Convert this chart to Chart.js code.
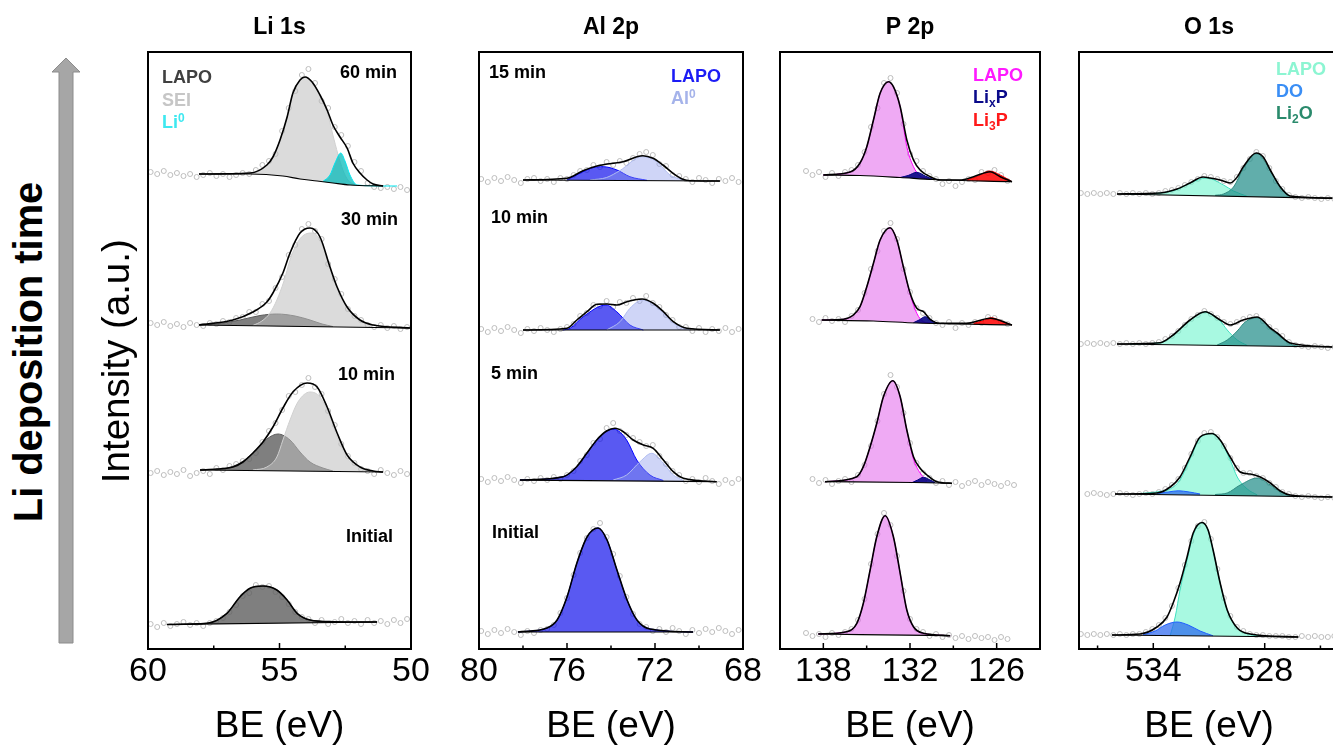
<!DOCTYPE html>
<html>
<head>
<meta charset="utf-8">
<title>XPS Li deposition</title>
<script src="https://cdn.jsdelivr.net/npm/chart.js@4.4.1/dist/chart.umd.min.js"></script>
<style>
  html, body { margin: 0; padding: 0; background: #fff; }
  body { width: 1333px; height: 749px; overflow: hidden; position: relative; font-family: 'Liberation Sans', Arial, sans-serif; }
  canvas { position: absolute; top: 0; }
  #arrow { position: absolute; left: 0; top: 0; }
  #timeLabel {
    position: absolute; left: 28px; top: 352px;
    transform: translate(-50%, -50%) rotate(-90deg) scaleX(0.97);
    font-weight: bold; font-size: 41px; line-height: 1; white-space: nowrap; color: #000;
  }
</style>
</head>
<body>
<svg id="arrow" width="100" height="749">
  <polygon points="59,643 59,72 52,72 66,58 80,72 73,72 73,643" fill="#a6a6a6" stroke="#8c8c8c" stroke-width="1"/>
</svg>
<div id="timeLabel">Li deposition time</div>
<canvas id="li1s" width="436" height="749" style="left:0px"></canvas>
<canvas id="al2p" width="314" height="749" style="left:454px"></canvas>
<canvas id="p2p" width="310" height="749" style="left:755px"></canvas>
<canvas id="o1s" width="310" height="749" style="left:1054px"></canvas>
<script>
Chart.defaults.font.family = "'Liberation Sans', Arial, sans-serif";
Chart.defaults.color = '#000';

// ---------- Li 1s ----------
const li1sTicks = [60, 55, 50];
const li1sMinor = [57.5, 52.5];
const li1sGrid = [59.9, 59.65, 59.4, 59.15, 58.9, 58.65, 58.4, 58.15, 57.9, 57.65, 57.4, 57.15, 56.9, 56.65, 56.4, 56.15, 55.9, 55.65, 55.4, 55.15,
  54.9, 54.65, 54.4, 54.15, 53.9, 53.65, 53.4, 53.15, 52.9, 52.65, 52.4, 52.15, 51.9, 51.65, 51.4, 51.15, 50.9, 50.65, 50.4, 50.15];
const li1sRaw60 = [477, 475, 478, 474, 476, 473, 475, 472, 474, 476, 473, 475, 472, 474, 476, 475, 479, 484, 488, 495,
  518, 541, 558, 574, 580, 566, 548, 541, 522, 514, 503, 487, 478, 466, 462, 461, 462, 460, 462, 459];
const li1sRaw30 = [326, 324, 327, 323, 325, 322, 326, 324, 323, 326, 325, 328, 327, 331, 332, 337, 337, 345, 348, 361,
  372, 394, 404, 420, 425, 418, 410, 385, 370, 355, 340, 333, 329, 324, 322, 324, 321, 323, 320, 322];
const li1sRaw10 = [176, 178, 174, 177, 175, 179, 173, 176, 178, 175, 181, 179, 183, 185, 188, 190, 196, 207, 218, 226,
  239, 253, 257, 264, 271, 262, 255, 238, 224, 205, 193, 186, 180, 178, 175, 179, 176, 174, 178, 175];
const li1sRaw0 = [25, 22, 26, 23, 25, 27, 24, 26, 23, 26, 28, 31, 37, 44, 53, 56, 64, 62, 63, 57,
  52, 45, 37, 32, 30, 26, 29, 25, 27, 30, 26, 28, 25, 29, 26, 28, 25, 29, 26, 30];

const li1sBase60 = [[58.06, 475], [56.12, 475], [54.87, 473], [54.22, 470], [53.57, 468], [52.97, 466], [52.32, 464], [51.06, 463]];
const li1sEnv60 = [[58.06, 475], [56.12, 476], [55.48, 484], [55.25, 492], [54.98, 509], [54.71, 532], [54.49, 556], [54.22, 569], [54.03, 572], [53.76, 567],
  [53.46, 554], [53.19, 539], [52.97, 524], [52.70, 512], [52.43, 501], [52.21, 486], [51.94, 476], [51.67, 469], [51.44, 465], [51.06, 463]];
const li1sSei60 = [[58.06, 475], [56.12, 476], [55.48, 484], [55.25, 492], [54.98, 509], [54.71, 532], [54.49, 556], [54.22, 569], [54.03, 572], [53.76, 567],
  [53.46, 554], [53.19, 537], [52.97, 514], [52.78, 495], [52.59, 479], [52.40, 469], [52.13, 464]];
const li1sLi60 = [[53.35, 467.5], [53.08, 474], [52.89, 486], [52.67, 496], [52.51, 488], [52.32, 474], [52.05, 464], [51.06, 463]];
const li1sLiTail60 = [[51.06, 463], [50.53, 463]];

const li1sBase30 = [[58.06, 324], [50.04, 321]];
const li1sEnv30 = [[58.06, 324], [56.77, 329], [56.01, 337], [55.48, 347], [55.25, 356], [54.87, 376], [54.60, 396], [54.22, 416], [53.84, 421], [53.46, 412],
  [53.08, 382], [52.81, 362], [52.43, 342], [51.94, 329], [51.44, 324], [50.04, 321]];
const li1sLapo30 = [[58.06, 324], [57.26, 325.5], [56.50, 329], [55.74, 333.5], [55.10, 335], [54.41, 333], [53.84, 329], [53.38, 325], [52.97, 322.5]];
const li1sSei30 = [[56.01, 323.5], [55.67, 328], [55.36, 336], [55.10, 349], [54.83, 368], [54.60, 389], [54.33, 406], [54.07, 414], [53.76, 416], [53.46, 409],
  [53.08, 381], [52.81, 361], [52.43, 341], [51.94, 328], [51.48, 323]];

const li1sBase10 = [[58.02, 179], [51.06, 177]];
const li1sEnv10 = [[58.02, 179], [57.38, 180], [56.77, 182], [56.39, 187], [56.01, 196], [55.63, 207], [55.25, 222], [54.87, 241], [54.49, 257], [53.95, 266],
  [53.57, 262], [53.19, 242], [52.81, 216], [52.43, 194], [51.94, 182], [51.44, 178], [51.06, 177]];
const li1sLapo10 = [[58.02, 179], [57.00, 181], [56.50, 186], [56.01, 196], [55.48, 210], [55.06, 215], [54.60, 209], [54.22, 197], [53.84, 187], [53.35, 181], [52.97, 178]];
const li1sSei10 = [[56.01, 179], [55.48, 182], [55.10, 192], [54.87, 209], [54.60, 229], [54.30, 247], [53.84, 257], [53.46, 252], [53.08, 232], [52.81, 212],
  [52.43, 191], [51.94, 181], [51.67, 178]];

const li1sBase0 = [[59.28, 24.5], [51.29, 27]];
const li1sEnv0 = [[59.28, 24.5], [57.76, 25.7], [57.00, 35.7], [56.50, 52.3], [56.12, 60.7], [55.63, 63], [55.10, 59], [54.71, 49], [54.33, 35.7], [53.84, 29],
  [52.97, 27.3], [51.29, 27]];

// ---------- Al 2p ----------
const al2pTicks = [80, 76, 72, 68];
const al2pMinor = [78, 74, 70];
const al2pGrid = [79.9, 79.6, 79.3, 79.0, 78.7, 78.4, 78.1, 77.8, 77.5, 77.2, 76.9, 76.6, 76.3, 76.0, 75.7, 75.4, 75.1, 74.8, 74.5, 74.2,
  73.9, 73.6, 73.3, 73.0, 72.7, 72.4, 72.1, 71.8, 71.5, 71.2, 70.9, 70.6, 70.3, 70.0, 69.7, 69.4, 69.1, 68.8, 68.5, 68.2];
const al2pRaw15 = [470, 467, 471, 468, 472, 469, 466, 470, 471, 468, 470, 467, 471, 470, 474, 478, 479, 484, 482, 487,
  484, 488, 486, 491, 495, 497, 494, 485, 483, 474, 473, 470, 467, 471, 469, 466, 470, 468, 471, 467];
const al2pRaw10 = [320, 317, 321, 318, 322, 319, 316, 320, 318, 321, 319, 317, 320, 322, 325, 333, 336, 344, 343, 348,
  342, 347, 346, 351, 348, 353, 346, 342, 334, 329, 322, 322, 318, 321, 317, 320, 318, 321, 317, 320];
const al2pRaw5 = [170, 167, 171, 168, 172, 169, 166, 170, 168, 171, 169, 172, 170, 174, 178, 188, 194, 206, 210, 221,
  226, 218, 214, 211, 207, 203, 204, 193, 185, 178, 174, 168, 170, 167, 171, 168, 165, 169, 166, 170];
const al2pRaw0 = [18, 15, 19, 16, 20, 17, 14, 18, 16, 19, 20, 24, 36, 51, 74, 96, 111, 120, 126, 112,
  95, 73, 52, 35, 25, 22, 18, 20, 17, 21, 18, 15, 19, 16, 20, 17, 21, 18, 15, 19];

const al2pBase15 = [[78.00, 469], [69.05, 468]];
const al2pEnv15 = [[78.00, 469], [76.00, 470.7], [75.27, 478.3], [74.64, 483], [74.18, 485], [73.45, 487.3], [72.82, 492.3], [72.55, 493.3], [72.09, 490.7],
  [71.64, 484], [71.18, 475.7], [70.73, 469.7], [70.41, 468.3], [69.05, 468]];
const al2pLapo15 = [[76.00, 469], [75.27, 477.3], [74.82, 481.3], [74.36, 482.3], [73.73, 479], [73.14, 472.3], [72.36, 468.7]];
const al2pAl15 = [[74.95, 469], [74.20, 471.5], [73.59, 478.5], [72.60, 492.3], [71.92, 487.3], [71.32, 474], [70.71, 469]];

const al2pBase10 = [[78.00, 319], [69.05, 319]];
const al2pEnv10 = [[78.00, 319], [76.00, 320.7], [75.55, 329], [75.09, 337.3], [74.64, 344.7], [74.18, 345], [73.73, 344], [73.27, 347.3], [72.59, 350],
  [72.08, 345.7], [71.62, 337.3], [71.17, 327.3], [70.55, 320.7], [69.05, 319]];
const al2pLapo10 = [[76.18, 319], [75.86, 320.7], [75.26, 332.3], [74.23, 344], [73.74, 337.3], [73.14, 324], [72.53, 319]];
const al2pAl10 = [[74.20, 319], [73.59, 327.3], [73.14, 340.7], [72.56, 349], [71.77, 339], [71.17, 325.7], [70.41, 319]];

const al2pBase5 = [[78.14, 169], [69.20, 167.3]];
const al2pEnv5 = [[78.14, 169], [76.17, 172.3], [75.56, 182.3], [75.10, 195.7], [74.65, 209], [74.20, 218], [73.82, 220.7], [73.44, 217.3], [72.99, 209],
  [72.53, 204], [72.08, 200.7], [71.62, 189], [71.17, 177.3], [70.71, 170.7], [69.20, 167.3]];
const al2pLapo5 = [[78.14, 169], [76.17, 172.3], [75.56, 182.3], [75.10, 195.7], [74.65, 209], [74.20, 218], [73.86, 219.7], [73.29, 209], [72.83, 189],
  [72.23, 174], [71.62, 168.5]];
const al2pAl5 = [[73.90, 169], [73.29, 174], [72.68, 187.3], [72.15, 195.7], [71.62, 185.7], [71.17, 174], [70.71, 168.5]];

const al2pBase0 = [[78.23, 17], [70.27, 17]];
const al2pEnv0 = [[78.23, 17], [76.91, 21], [76.45, 29], [76.00, 52], [75.55, 86], [75.09, 112], [74.59, 121], [74.18, 109], [73.73, 79], [73.27, 49],
  [72.82, 29], [72.23, 20], [70.27, 17]];

// ---------- P 2p ----------
const p2pTicks = [138, 132, 126];
const p2pMinor = [135, 129];
const p2pGrid = [139.2, 138.75, 138.3, 137.85, 137.4, 136.95, 136.5, 136.05, 135.6, 135.15, 134.7, 134.25, 133.8, 133.35, 132.9, 132.45, 132.0,
  131.55, 131.1, 130.65, 130.2, 129.75, 129.3, 128.85, 128.4, 127.95, 127.5, 127.05, 126.6, 126.15, 125.7, 125.25, 124.8];
const p2pRawA = [478, 474, 477, 472, 476, 473, 477, 479, 484, 497, 522, 541, 566, 571, 556, 525, 495, 488, 478, 473,
  470, 465, 468, 463, 467, 470, 469, 477, 476, 479, 474, 468, null];
const p2pRawB = [null, 330, 327, 331, 328, 330, 327, 333, 339, 356, 380, 398, 418, 426, 410, 380, 357, 341, 336, 331,
  326, 324, 327, 321, 326, 324, 327, 326, 332, 331, 327, 325, null];
const p2pRawC = [null, 170, 166, 169, 165, 168, 170, 167, 174, 184, 203, 228, 255, 274, 262, 236, 206, 186, 176, 171,
  166, 168, 164, 167, 163, 166, 168, 164, 167, 165, 163, 166, 164];
const p2pRawD = [16, 13, 15, 12, 16, 14, 17, 20, 29, 50, 85, 115, 136, 124, 93, 58, 30, 20, 17, 13,
  15, 12, 14, 11, 13, 10, 13, 11, 12, 9, 12, 10, null];

const p2pBaseA = [[138.00, 474], [135.46, 473.5], [132.68, 471.5], [130.40, 469.5], [124.94, 467.3]];
const p2pEnvA = [[138.00, 474], [136.15, 477], [135.46, 486], [134.99, 502.3], [134.53, 529], [134.07, 555.7], [133.49, 567.3], [133.15, 562.3], [132.68, 542.3],
  [132.22, 509], [131.76, 489], [131.30, 479], [130.60, 472.3], [129.91, 469], [128.53, 469], [127.60, 472.3], [126.45, 477.3], [125.75, 472.3], [124.94, 467.3]];
const p2pLapoA = [[138.00, 474], [136.15, 477], [135.46, 486], [134.99, 502.3], [134.53, 529], [134.07, 555.7], [133.49, 567.3], [133.15, 562.3], [132.68, 542.3],
  [132.22, 502.3], [131.76, 482.3], [131.30, 473], [130.81, 470.5]];
const p2pLixA = [[132.68, 471.5], [132.13, 473.5], [131.53, 476.7], [130.95, 473], [130.38, 469.5]];
const p2pLi3A = [[128.06, 469], [127.28, 473], [126.50, 478], [125.75, 474], [124.94, 467.3]];

const p2pBaseB = [[138.11, 329], [134.53, 328], [131.53, 326], [124.94, 324]];
const p2pEnvB = [[138.11, 329], [136.61, 329.7], [135.92, 334], [135.46, 342.3], [134.99, 362.3], [134.53, 385.7], [134.07, 409], [133.38, 421.3], [132.91, 409],
  [132.46, 382.3], [131.99, 355.7], [131.53, 340.7], [131.07, 337.3], [130.60, 329.7], [129.91, 325.7], [128.06, 325.7], [126.45, 330.7], [124.94, 324]];
const p2pLapoB = [[138.11, 329], [136.61, 329.7], [135.92, 334], [135.46, 342.3], [134.99, 362.3], [134.53, 385.7], [134.07, 409], [133.38, 421.3], [132.91, 409],
  [132.46, 382.3], [131.99, 354.7], [131.53, 335.7], [131.07, 327.3], [130.60, 326]];
const p2pLixB = [[131.76, 326.3], [131.37, 329], [130.95, 332.3], [130.54, 329], [130.14, 325.7]];
const p2pLi3B = [[127.60, 325.7], [127.00, 328], [126.38, 331.3], [125.68, 328], [124.94, 324]];

const p2pBaseC = [[137.88, 167.3], [131.76, 166.5], [129.10, 165.7]];
const p2pEnvC = [[137.88, 167.3], [135.68, 172.3], [135.23, 182.3], [134.76, 202.3], [134.30, 225.7], [133.84, 252.3], [133.19, 268.3], [132.68, 252.3],
  [132.22, 219], [131.76, 192.3], [131.30, 180.7], [130.83, 174], [130.14, 167.3], [129.10, 165.7]];
const p2pLapoC = [[137.88, 167.3], [135.68, 172.3], [135.23, 182.3], [134.76, 202.3], [134.30, 225.7], [133.84, 252.3], [133.19, 268.3], [132.68, 252.3],
  [132.22, 219], [131.76, 190], [131.30, 176], [130.81, 168]];
const p2pLixC = [[131.87, 166.3], [131.47, 169], [131.07, 171.7], [130.67, 169.5], [130.26, 166.3]];

const p2pBaseD = [[138.35, 15], [129.22, 13.3]];
const p2pEnvD = [[138.35, 15], [136.38, 17.3], [135.68, 25.7], [135.23, 45.7], [134.76, 79], [134.30, 112.3], [133.72, 133.3], [133.15, 112.3], [132.68, 75.7],
  [132.22, 39], [131.76, 22.3], [131.07, 15.7], [129.22, 13.3]];

// ---------- O 1s ----------
const o1sTicks = [534, 528];
const o1sMinor = [537, 531, 525];
const o1sGrid = [537.9, 537.55, 537.2, 536.85, 536.5, 536.15, 535.8, 535.45, 535.1, 534.75, 534.4, 534.05, 533.7, 533.35, 533.0, 532.65, 532.3, 531.95, 531.6, 531.25,
  530.9, 530.55, 530.2, 529.85, 529.5, 529.15, 528.8, 528.45, 528.1, 527.75, 527.4, 527.05, 526.7, 526.35, 526.0, 525.65, 525.3, 524.95, 524.6, 524.25];
const o1sRawA = [456, 455, 456, 455, 456, 455, 456, 455, 456, 455, 456, 455, 456, 458, 459, 461, 464, 467, 470, 473,
  472, 470, 468, 467, 472, 481, 490, 497, 493, 481, 468, 460, 454, 452, 451, 452, 451, 450, 451, 450];
const o1sRawB = [305, 306, 305, 306, 305, 306, 305, 306, 305, 306, 305, 306, 307, 310, 313, 318, 324, 330, 334, 338,
  335, 331, 327, 325, 327, 330, 332, 333, 328, 322, 318, 313, 307, 304, 303, 302, 303, 302, 301, 302];
const o1sRawC = [null, 155, 156, 155, 154, 155, 156, 155, 154, 155, 156, 155, 157, 160, 164, 170, 181, 195, 208, 216,
  217, 212, 203, 191, 181, 176, 176, 173, 171, 166, 162, 157, 155, 153, 152, 153, 152, 151, 152, 151];
const o1sRawD = [15, 14, 15, 14, 15, 14, 15, 14, 15, 15, 17, 20, 24, 31, 43, 61, 84, 108, 123, 127,
  110, 80, 51, 33, 22, 18, 15, 14, 14, 13, 13, 13, 12, 12, 13, 12, 13, 12, 12, 13];

const o1sBaseA = [[535.95, 455], [524.36, 450.7]];
const o1sEnvA = [[535.95, 455], [533.63, 456], [532.72, 460], [532.02, 466], [531.32, 472], [530.94, 471], [530.40, 469], [529.86, 466], [529.48, 472],
  [529.16, 482], [528.46, 496], [528.08, 492], [527.70, 479], [527.16, 462], [526.63, 453], [524.36, 451]];
const o1sLapoA = [[535.25, 454.5], [533.63, 456], [532.73, 459.5], [532.02, 466], [531.12, 471], [530.22, 464], [529.68, 458], [528.96, 452.8]];
const o1sLi2oA = [[530.67, 453.7], [530.22, 455], [529.68, 462], [529.14, 480.7], [528.42, 495.7], [527.70, 478.3], [527.16, 462.3], [526.63, 452.3]];

const o1sBaseB = [[535.95, 305], [524.36, 302]];
const o1sEnvB = [[535.95, 305], [533.63, 306.3], [532.93, 314], [532.02, 329], [531.21, 337.3], [530.40, 329], [529.86, 324], [529.16, 329], [528.40, 332],
  [527.70, 321], [527.33, 316], [526.63, 306], [524.36, 302]];
const o1sLapoB = [[535.25, 305], [533.63, 306.3], [532.93, 314], [532.02, 329], [531.21, 337], [530.40, 328], [530.02, 319], [529.48, 309], [528.94, 303.5]];
const o1sLi2oB = [[530.56, 304], [530.02, 309], [529.48, 318], [529.05, 327], [528.42, 331.5], [527.97, 326], [527.70, 320], [527.33, 315], [526.63, 305], [526.09, 302.5]];

const o1sBaseC = [[536.06, 155], [524.36, 152]];
const o1sEnvC = [[536.06, 155], [533.80, 156], [533.09, 162], [532.56, 172], [532.02, 192], [531.48, 212], [530.83, 215.5], [530.40, 209], [529.86, 192],
  [529.32, 177], [528.78, 175], [528.24, 172], [527.70, 166], [527.16, 158], [526.63, 154], [524.36, 152]];
const o1sLapoC = [[534.71, 155.5], [533.63, 157.5], [533.09, 160], [532.56, 169], [532.02, 190], [531.48, 211], [530.83, 215.5], [530.40, 209], [529.86, 189],
  [529.48, 172], [528.94, 160], [528.40, 154]];
const o1sLi2oC = [[530.67, 154.5], [530.02, 156], [529.32, 164], [528.40, 171], [527.70, 164], [527.16, 157], [526.63, 153.5]];
const o1sDoC = [[533.80, 155.6], [533.20, 157], [532.66, 158.2], [532.07, 157], [531.48, 155]];

const o1sBaseD = [[536.22, 14], [526.19, 12]];
const o1sEnvD = [[536.22, 14], [534.71, 15], [533.80, 22], [533.26, 32], [532.93, 46], [532.56, 66], [532.18, 92], [531.85, 116], [531.37, 126.5], [531.05, 119],
  [530.78, 99], [530.40, 66], [530.02, 39], [529.48, 21], [528.78, 15], [526.19, 12]];
const o1sLapoD = [[533.09, 13.5], [532.82, 32], [532.56, 59], [532.18, 89], [531.85, 114], [531.37, 126.5], [531.05, 119], [530.78, 99], [530.40, 66],
  [530.02, 39], [529.48, 21], [528.78, 14.5], [528.24, 13.2]];
const o1sDoD = [[534.55, 14.3], [533.90, 18], [533.36, 24], [532.72, 27], [532.12, 24], [531.48, 18], [530.78, 13.2]];

// component colours (fill, outline)
const componentStyles = {
  liLapo: { fill: 'rgba(95,95,95,0.8)', line: '#5a5a5a' },
  sei: { fill: 'rgba(190,190,190,0.55)', line: '#d0d0d0' },
  li0: { fill: 'rgba(0,185,185,0.72)', line: '#00e5ee' },
  li0Tail: { fill: null, line: '#00e5ee' },
  alLapo: { fill: 'rgba(0,0,235,0.65)', line: '#0000ff' },
  al0: { fill: 'rgba(140,155,235,0.42)', line: '#b0bcf0' },
  pLapo: { fill: 'rgba(225,100,235,0.55)', line: '#ff00ff' },
  lixp: { fill: 'rgba(0,0,128,0.88)', line: '#000080' },
  li3p: { fill: 'rgba(255,0,0,0.85)', line: '#ff0000' },
  oLapo: { fill: 'rgba(110,245,205,0.6)', line: '#40e0c0' },
  li2o: { fill: 'rgba(30,140,135,0.7)', line: '#2e8b80' },
  dO: { fill: 'rgba(40,100,240,0.7)', line: '#1f5fff' }
};

const toXY = pts => pts.map(([x, y]) => ({ x, y }));

// raw points, fitted components filled down to their background, background, envelope on top
function buildDatasets(grid, spectra) {
  const sets = [];
  spectra.forEach(sp => {
    sets.push({
      data: grid.map((x, i) => ({ x, y: sp.raw[i] })),
      showLine: false, pointRadius: 2.5, pointBorderWidth: 1,
      pointBorderColor: '#bdbdbd', pointBackgroundColor: 'rgba(255,255,255,0)', order: 20
    });
    const baseIdx = sets.length;
    sets.push({ data: toXY(sp.base), borderColor: '#000', borderWidth: 1.2, pointRadius: 0, fill: false, order: 2 });
    sp.parts.forEach(([key, pts], j) => {
      const st = componentStyles[key];
      sets.push({
        data: toXY(pts), borderColor: st.line, borderWidth: 1, pointRadius: 0,
        backgroundColor: st.fill || 'transparent',
        fill: st.fill ? { target: baseIdx } : false,
        order: 10 - j
      });
    });
    sets.push({ data: toXY(sp.env), borderColor: '#000', borderWidth: 1.6, pointRadius: 0, fill: false, order: 1 });
  });
  return sets;
}

function drawRich(ctx, x0, y0, lab) {
  const big = "bold 18px 'Liberation Sans', Arial, sans-serif";
  const small = "bold 12px 'Liberation Sans', Arial, sans-serif";
  const widths = lab.parts.map(([t, m]) => { ctx.font = m ? small : big; return ctx.measureText(t).width; });
  const total = widths.reduce((a, b) => a + b, 0);
  let x = lab.align === 'right' ? x0 - total : x0;
  ctx.fillStyle = lab.color;
  lab.parts.forEach(([t, m], i) => {
    ctx.font = m ? small : big;
    const dy = m === 'sup' ? -6 : m === 'sub' ? 4 : 0;
    ctx.fillText(t, x, y0 + dy);
    x += widths[i];
  });
}

// frame, inward ticks and in-panel annotations
const panelDecor = {
  id: 'panelDecor',
  afterDatasetsDraw(chart, args, opts) {
    const { ctx, chartArea: a } = chart;
    const xs = chart.scales.x;
    ctx.save();
    ctx.strokeStyle = '#000';
    ctx.lineWidth = 1.5;
    ctx.beginPath();
    opts.major.forEach(v => { const p = xs.getPixelForValue(v); ctx.moveTo(p, a.bottom); ctx.lineTo(p, a.bottom - 6); });
    opts.minor.forEach(v => { const p = xs.getPixelForValue(v); ctx.moveTo(p, a.bottom); ctx.lineTo(p, a.bottom - 3.5); });
    ctx.stroke();
    ctx.lineWidth = 2;
    ctx.strokeRect(a.left, a.top, a.right - a.left, a.bottom - a.top);
    ctx.textAlign = 'left';
    ctx.textBaseline = 'alphabetic';
    opts.labels.forEach(l => drawRich(ctx, a.left + l.x, a.top + l.y, l));
    ctx.restore();
  }
};

function makeChart(id, cfg) {
  return new Chart(document.getElementById(id), {
    type: 'line',
    data: { datasets: cfg.datasets },
    options: {
      responsive: false, animation: false, devicePixelRatio: 1, events: [],
      layout: { padding: cfg.padding },
      elements: { line: { cubicInterpolationMode: 'monotone', borderJoinStyle: 'round' }, point: { radius: 0 } },
      plugins: {
        legend: { display: false },
        tooltip: { enabled: false },
        title: {
          display: true, text: cfg.title, fullSize: false, color: '#000',
          font: { size: 23, weight: 'bold' }, padding: { top: 14.2, bottom: 10.2 }
        },
        panelDecor: { major: cfg.major, minor: cfg.minor, labels: cfg.labels }
      },
      scales: {
        x: {
          type: 'linear', reverse: true, min: cfg.min, max: cfg.max,
          afterBuildTicks: s => { s.ticks = cfg.major.map(v => ({ value: v })); },
          grid: { display: false, drawTicks: false },
          border: { display: false },
          ticks: { autoSkip: false, maxRotation: 0, minRotation: 0, padding: 2, color: '#000', font: { size: 34 }, callback: v => String(v) },
          title: { display: true, text: 'BE (eV)', color: '#000', font: { size: 37 }, padding: { top: 10.8, bottom: 0 } }
        },
        y: cfg.yAxis
      }
    },
    plugins: [panelDecor]
  });
}

const hiddenY = { min: 0, max: 597, display: false };

makeChart('li1s', {
  title: 'Li 1s', min: 50, max: 60, major: li1sTicks, minor: li1sMinor,
  padding: { left: 94.8, right: 25, top: 0, bottom: 0 },
  yAxis: {
    min: 0, max: 597, display: true,
    ticks: { display: false }, grid: { display: false, drawTicks: false }, border: { display: false },
    title: { display: true, text: 'Intensity (a.u.)  ', color: '#000', font: { size: 38.5 }, padding: { top: 0, bottom: 7 } }
  },
  datasets: buildDatasets(li1sGrid, [
    { raw: li1sRaw60, base: li1sBase60, env: li1sEnv60, parts: [['sei', li1sSei60], ['li0', li1sLi60], ['li0Tail', li1sLiTail60]] },
    { raw: li1sRaw30, base: li1sBase30, env: li1sEnv30, parts: [['liLapo', li1sLapo30], ['sei', li1sSei30]] },
    { raw: li1sRaw10, base: li1sBase10, env: li1sEnv10, parts: [['liLapo', li1sLapo10], ['sei', li1sSei10]] },
    { raw: li1sRaw0, base: li1sBase0, env: li1sEnv0, parts: [['liLapo', li1sEnv0]] }
  ]),
  labels: [
    { x: 249, y: 26, align: 'right', color: '#000', parts: [['60 min']] },
    { x: 250, y: 173, align: 'right', color: '#000', parts: [['30 min']] },
    { x: 247, y: 328, align: 'right', color: '#000', parts: [['10 min']] },
    { x: 245, y: 490, align: 'right', color: '#000', parts: [['Initial']] },
    { x: 14, y: 31, color: '#404040', parts: [['LAPO']] },
    { x: 14, y: 54, color: '#c6c6c6', parts: [['SEI']] },
    { x: 14, y: 76, color: '#3ee8f0', parts: [['Li'], ['0', 'sup']] }
  ]
});

makeChart('al2p', {
  title: 'Al 2p', min: 68, max: 80, major: al2pTicks, minor: al2pMinor,
  padding: { left: 25, right: 25, top: 0, bottom: 0 },
  yAxis: hiddenY,
  datasets: buildDatasets(al2pGrid, [
    { raw: al2pRaw15, base: al2pBase15, env: al2pEnv15, parts: [['alLapo', al2pLapo15], ['al0', al2pAl15]] },
    { raw: al2pRaw10, base: al2pBase10, env: al2pEnv10, parts: [['alLapo', al2pLapo10], ['al0', al2pAl10]] },
    { raw: al2pRaw5, base: al2pBase5, env: al2pEnv5, parts: [['alLapo', al2pLapo5], ['al0', al2pAl5]] },
    { raw: al2pRaw0, base: al2pBase0, env: al2pEnv0, parts: [['alLapo', al2pEnv0]] }
  ]),
  labels: [
    { x: 10, y: 26, color: '#000', parts: [['15 min']] },
    { x: 12, y: 171, color: '#000', parts: [['10 min']] },
    { x: 12, y: 327, color: '#000', parts: [['5 min']] },
    { x: 13, y: 486, color: '#000', parts: [['Initial']] },
    { x: 192, y: 30, color: '#1c1cf5', parts: [['LAPO']] },
    { x: 192, y: 52, color: '#a5b3ea', parts: [['Al'], ['0', 'sup']] }
  ]
});

makeChart('p2p', {
  title: 'P 2p', min: 123, max: 141, major: p2pTicks, minor: p2pMinor,
  padding: { left: 25, right: 25, top: 0, bottom: 0 },
  yAxis: hiddenY,
  datasets: buildDatasets(p2pGrid, [
    { raw: p2pRawA, base: p2pBaseA, env: p2pEnvA, parts: [['pLapo', p2pLapoA], ['lixp', p2pLixA], ['li3p', p2pLi3A]] },
    { raw: p2pRawB, base: p2pBaseB, env: p2pEnvB, parts: [['pLapo', p2pLapoB], ['lixp', p2pLixB], ['li3p', p2pLi3B]] },
    { raw: p2pRawC, base: p2pBaseC, env: p2pEnvC, parts: [['pLapo', p2pLapoC], ['lixp', p2pLixC]] },
    { raw: p2pRawD, base: p2pBaseD, env: p2pEnvD, parts: [['pLapo', p2pEnvD]] }
  ]),
  labels: [
    { x: 193, y: 29, color: '#ff1aff', parts: [['LAPO']] },
    { x: 193, y: 51, color: '#0a0a8a', parts: [['Li'], ['x', 'sub'], ['P']] },
    { x: 193, y: 74, color: '#ff1a1a', parts: [['Li'], ['3', 'sub'], ['P']] }
  ]
});

makeChart('o1s', {
  title: 'O 1s', min: 524, max: 538, major: o1sTicks, minor: o1sMinor,
  padding: { left: 25, right: 25, top: 0, bottom: 0 },
  yAxis: hiddenY,
  datasets: buildDatasets(o1sGrid, [
    { raw: o1sRawA, base: o1sBaseA, env: o1sEnvA, parts: [['oLapo', o1sLapoA], ['li2o', o1sLi2oA]] },
    { raw: o1sRawB, base: o1sBaseB, env: o1sEnvB, parts: [['oLapo', o1sLapoB], ['li2o', o1sLi2oB]] },
    { raw: o1sRawC, base: o1sBaseC, env: o1sEnvC, parts: [['oLapo', o1sLapoC], ['li2o', o1sLi2oC], ['dO', o1sDoC]] },
    { raw: o1sRawD, base: o1sBaseD, env: o1sEnvD, parts: [['oLapo', o1sLapoD], ['dO', o1sDoD]] }
  ]),
  labels: [
    { x: 197, y: 23, color: '#8cf5d2', parts: [['LAPO']] },
    { x: 197, y: 45, color: '#3a8ef5', parts: [['DO']] },
    { x: 197, y: 67, color: '#2a8a6c', parts: [['Li'], ['2', 'sub'], ['O']] }
  ]
});
</script>
</body>
</html>
